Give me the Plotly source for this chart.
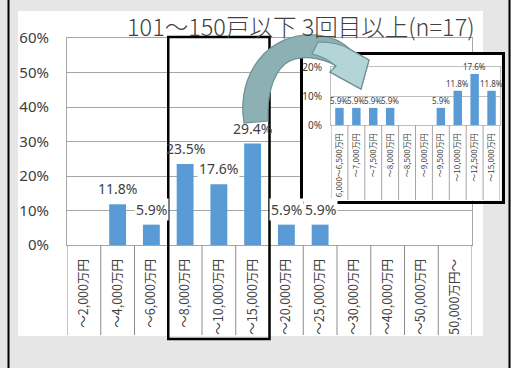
import plotly.graph_objects as go

# ---------------- data ----------------
main_categories = ["～2,000万円", "～4,000万円", "～6,000万円", "～8,000万円", "～10,000万円",
                   "～15,000万円", "～20,000万円", "～25,000万円", "～30,000万円", "～40,000万円",
                   "～50,000万円", "50,000万円～"]
main_values = [0, 11.8, 5.9, 23.5, 17.6, 29.4, 5.9, 5.9, 0, 0, 0, 0]

inset_categories = ["6,000～6,500万円", "～7,000万円", "～7,500万円", "～8,000万円", "～8,500万円",
                    "～9,000万円", "～9,500万円", "～10,000万円", "～12,500万円", "～15,000万円"]
inset_values = [5.9, 5.9, 5.9, 5.9, 0, 0, 5.9, 11.8, 17.6, 11.8]

main_yticks = [0, 10, 20, 30, 40, 50, 60]
inset_yticks = [0, 10, 20]
title_text = "101～150戸以下 3回目以上(n=17)"
highlight_first, highlight_last = 3, 5   # categories enclosed by the black box

# ---------------- helpers (pixel -> paper) ----------------
W, H = 511, 368
def fx(x): return x / W
def fy(y): return 1 - y / H
def P(x, y): return f"{fx(x):.5f},{fy(y):.5f}"

BAR = "#5b9bd5"
TXT = "#404040"
GRID = "#a6a6a6"
JP = "Noto Sans CJK JP"
LAT = "Noto Sans"

fig = go.Figure()

fig.add_trace(go.Bar(x=main_categories, y=main_values, width=0.5, marker=dict(color=BAR, line_width=0),
                     xaxis="x", yaxis="y", hoverinfo="skip"))
# cover panel for the inset (empty)
fig.add_trace(go.Scatter(x=[], y=[], xaxis="x2", yaxis="y2", hoverinfo="skip"))
fig.add_trace(go.Bar(x=inset_categories, y=inset_values, width=0.5, marker=dict(color=BAR, line_width=0),
                     xaxis="x3", yaxis="y3", hoverinfo="skip"))

annotations = []
for i, (c, v) in enumerate(zip(main_categories, main_values)):
    if v > 0:
        on_edge = i in (highlight_first, highlight_last)
        annotations.append(dict(x=c, y=v, xref="x", yref="y", text=f"{v}%", showarrow=False,
                                yanchor="bottom", yshift=4,
                                bgcolor="rgba(0,0,0,0)" if on_edge else "white", borderpad=1,
                                font=dict(family=LAT, size=14, color=TXT)))
for c, v in zip(inset_categories, inset_values):
    if v > 0:
        annotations.append(dict(x=c, y=v, xref="x3", yref="y3", text=f"{v}%", showarrow=False,
                                yanchor="bottom", yshift=0,
                                font=dict(family=LAT, size=8, color=TXT)))
annotations.append(dict(x=fx(301), y=fy(26), xref="paper", yref="paper", text=title_text,
                        showarrow=False, xanchor="center", yanchor="middle",
                        font=dict(family=JP, size=23.5, color=TXT, weight=300)))

shapes = []
# white chart area
shapes.append(dict(type="rect", xref="paper", yref="paper", x0=fx(18), x1=fx(483), y0=fy(336), y1=fy(11),
                   fillcolor="white", line_width=0, layer="below"))
# outer frame lines
for xx in (8.5, 509.5):
    shapes.append(dict(type="line", xref="paper", yref="paper", x0=fx(xx), x1=fx(xx), y0=0, y1=1,
                       line=dict(color="black", width=2), layer="below"))
# category separators below main axis
for k in range(len(main_categories) + 1):
    shapes.append(dict(type="line", xref="x", yref="paper", x0=k - 0.5, x1=k - 0.5, y0=fy(335), y1=fy(245),
                       line=dict(color="#8c8c8c", width=1), layer="above"))
# category separators below inset axis
for k in range(len(inset_categories) + 1):
    shapes.append(dict(type="line", xref="x3", yref="paper", x0=k - 0.5, x1=k - 0.5, y0=fy(200), y1=fy(125),
                       line=dict(color="#a6a6a6", width=1), layer="above"))
# highlight box around 3 categories
shapes.append(dict(type="rect", xref="x", yref="paper", x0=highlight_first - 0.5, x1=highlight_last + 0.5,
                   y0=fy(339), y1=fy(37),
                   line=dict(color="black", width=2.5), fillcolor="rgba(0,0,0,0)", layer="above"))
# curved arrow (body + lighter head)
arrow = (f"M{P(244,123)} C{P(236,74)} {P(268,31)} {P(318,35)} "
         f"C{P(334,37)} {P(345,44)} {P(351,50)} L{P(369,60)} L{P(361,89)} L{P(330,72)} L{P(336,66)} "
         f"C{P(323,58)} {P(299,53)} {P(285,64)} C{P(272,75)} {P(267,97)} {P(268,121)} Z")
shapes.append(dict(type="path", xref="paper", yref="paper", path=arrow, fillcolor="#8cb0b3",
                   line=dict(color="#6f9194", width=1.2), layer="above"))
head = (f"M{P(351,50)} L{P(369,60)} L{P(361,89)} L{P(330,72)} L{P(336,66)} "
        f"C{P(330,61)} {P(322,56)} {P(312,54)} L{P(318,42)} C{P(333,42)} {P(344,45)} {P(351,50)} Z")
shapes.append(dict(type="path", xref="paper", yref="paper", path=head, fillcolor="#b3d5d8",
                   line=dict(color="#6f9194", width=1.2), layer="above"))

common = dict(automargin=False, fixedrange=True, zeroline=False)

fig.update_layout(
    width=W, height=H, autosize=False,
    margin=dict(l=0, r=0, t=0, b=0, pad=0, autoexpand=False),
    paper_bgcolor="#e6e6e6", plot_bgcolor="white",
    showlegend=False, bargap=0.5,
    font=dict(family=LAT, color=TXT),
    xaxis=dict(domain=[fx(67), fx(472)], anchor="y", type="category", range=[-0.5, 11.5],
               showline=True, mirror=True, linecolor=GRID, linewidth=1, showgrid=False, ticks="",
               tickangle=-90, tickfont=dict(family=JP, size=12.5, color=TXT), ticklabelstandoff=8,
               **common),
    yaxis=dict(domain=[fy(245), fy(38)], anchor="x", range=[0, 60], tickmode="array",
               tickvals=main_yticks, ticktext=[f"{t}%" for t in main_yticks],
               showline=True, mirror=True, linecolor=GRID, linewidth=1,
               gridcolor=GRID, gridwidth=1, ticks="",
               tickfont=dict(family=LAT, size=15, color=TXT), ticklabelstandoff=14, **common),
    xaxis2=dict(domain=[fx(302.5), fx(501.5)], anchor="y2", range=[0, 1], showline=True, mirror=True,
                linecolor="black", linewidth=2.5, showgrid=False, showticklabels=False,
                ticks="", **common),
    yaxis2=dict(domain=[fy(200.5), fy(54.5)], anchor="x2", range=[0, 1], showline=True, mirror=True,
                linecolor="black", linewidth=2.5, showgrid=False, showticklabels=False,
                ticks="", **common),
    xaxis3=dict(domain=[fx(331), fx(500)], anchor="y3", type="category", range=[-0.5, 9.5],
                showline=True, mirror=True, linecolor="#bfbfbf", linewidth=1, showgrid=False, ticks="",
                tickangle=-90, tickfont=dict(family=JP, size=8, color=TXT), ticklabelstandoff=4,
                **common),
    yaxis3=dict(domain=[fy(125), fy(67)], anchor="x3", range=[0, 20], tickmode="array",
                tickvals=inset_yticks, ticktext=[f"{t}%" for t in inset_yticks],
                showline=True, mirror=True, linecolor="#bfbfbf", linewidth=1,
                gridcolor="#bfbfbf", ticks="",
                tickfont=dict(family=LAT, size=10, color=TXT), ticklabelstandoff=6, **common),
    annotations=annotations,
    shapes=shapes,
)

fig.write_html("out.html", config={"displayModeBar": False},
               post_script="document.body.style.margin='0';document.body.style.overflow='hidden';")
